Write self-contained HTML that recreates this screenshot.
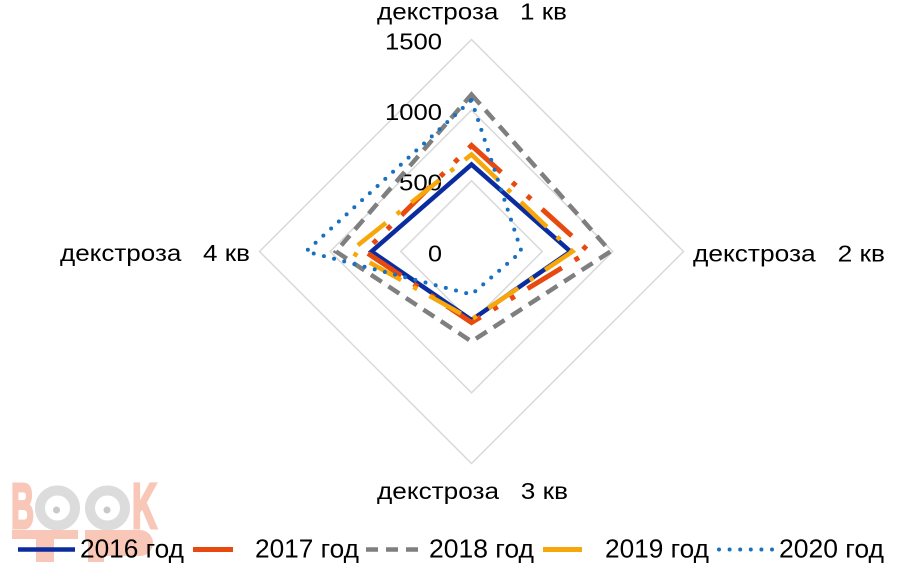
<!DOCTYPE html>
<html>
<head>
<meta charset="utf-8">
<style>
  html,body{margin:0;padding:0;background:#fff;}
  svg{display:block;}
  text{font-family:"Liberation Sans","DejaVu Sans",sans-serif;}
  .t text{fill:#000;}
</style>
</head>
<body>
<svg width="914" height="572" viewBox="0 0 914 572" xmlns="http://www.w3.org/2000/svg">
  <rect x="0" y="0" width="914" height="572" fill="#fff"/>

  <!-- watermark -->
  <g>
    <text x="11" y="528" font-size="64" font-weight="bold" style="fill:#F8C7B7;stroke:#F8C7B7;stroke-width:3" textLength="23" lengthAdjust="spacingAndGlyphs">B</text>
    <circle cx="57.5" cy="508" r="17.5" fill="none" stroke="#DCDCDC" stroke-width="10"/>
    <circle cx="56.5" cy="510" r="3.5" fill="#C9C9C9"/>
    <circle cx="107.5" cy="508" r="17.5" fill="none" stroke="#DCDCDC" stroke-width="10"/>
    <circle cx="107" cy="510" r="3.5" fill="#C9C9C9"/>
    <text x="132" y="528" font-size="64" font-weight="bold" style="fill:#F8C7B7;stroke:#F8C7B7;stroke-width:3" textLength="25" lengthAdjust="spacingAndGlyphs">K</text>
    <rect x="12" y="530" width="66" height="9" fill="#F8C7B7"/>
    <rect x="36" y="539" width="18" height="23" fill="#F8C7B7"/>
    <path d="M85 530 H140 A12 12 0 0 1 140 556 H104 V562 H88 V539 H85 Z" fill="#F8C7B7"/>
  </g>

  <!-- grid -->
  <g fill="none" stroke="#D9D9D9" stroke-width="1.5">
    <polygon points="471.5,39.5 683.5,251.5 471.5,463.5 259.5,251.5"/>
    <polygon points="471.5,110.2 612.8,251.5 471.5,392.8 330.2,251.5"/>
    <polygon points="471.5,180.8 542.2,251.5 471.5,322.2 400.8,251.5"/>
  </g>

  <g class="t">
  <!-- tick labels -->
  <g font-size="23" text-anchor="end">
    <text x="442" y="49.5" textLength="57" lengthAdjust="spacingAndGlyphs">1500</text>
    <text x="442" y="120" textLength="57" lengthAdjust="spacingAndGlyphs">1000</text>
    <text x="442" y="190.7" textLength="43" lengthAdjust="spacingAndGlyphs">500</text>
    <text x="442" y="261.3" textLength="14" lengthAdjust="spacingAndGlyphs">0</text>
  </g>

  <!-- category labels -->
  <g font-size="23">
    <text x="377" y="19.5" textLength="190" lengthAdjust="spacingAndGlyphs" xml:space="preserve">декстроза   1 кв</text>
    <text x="693" y="261.5" textLength="192" lengthAdjust="spacingAndGlyphs" xml:space="preserve">декстроза   2 кв</text>
    <text x="377" y="499" textLength="191" lengthAdjust="spacingAndGlyphs" xml:space="preserve">декстроза   3 кв</text>
    <text x="60" y="261" textLength="190" lengthAdjust="spacingAndGlyphs" xml:space="preserve">декстроза   4 кв</text>
  </g>
  </g>

  <!-- series -->
  <g fill="none" stroke-linejoin="miter">
    <!-- 2016 -->
    <polygon points="471.5,164.5 570.5,251.5 471.5,320 371.5,251.5" stroke="#0B2C9E" stroke-width="4.5"/>
    <!-- 2017 -->
    <polygon points="471.5,145.5 589,251.5 471.5,322.5 365,251.5" stroke="#E8490F" stroke-width="5" stroke-dasharray="40 15 5 15 5 15"/>
    <!-- 2018 -->
    <polygon points="471.5,94.5 610.5,251.5 471.5,341.5 336,251.5" stroke="#7F7F7F" stroke-width="4.5" stroke-dasharray="13 8"/>
    <!-- 2019 -->
    <polygon points="471.5,154.5 572.5,251.5 471.5,319.5 350,251.5" stroke="#F7A70A" stroke-width="4.5" stroke-dasharray="36 14 4.5 14"/>
    <!-- 2020 -->
    <polygon points="471.5,100 521.5,251.5 471.5,294.5 306,251.5" stroke="#1A70C0" stroke-width="4" stroke-linecap="round" stroke-dasharray="0 10.5"/>
  </g>

  <!-- legend -->
  <g fill="none">
    <line x1="18" y1="549.5" x2="75" y2="549.5" stroke="#0B2C9E" stroke-width="4.5"/>
    <line x1="193" y1="549.5" x2="233" y2="549.5" stroke="#E8490F" stroke-width="5"/>
    <line x1="366" y1="549.5" x2="420" y2="549.5" stroke="#7F7F7F" stroke-width="4.5" stroke-dasharray="12 8"/>
    <line x1="543" y1="549.5" x2="582" y2="549.5" stroke="#F7A70A" stroke-width="5"/>
    <line x1="719" y1="549.5" x2="772" y2="549.5" stroke="#1A70C0" stroke-width="4" stroke-linecap="round" stroke-dasharray="0 10.6"/>
  </g>
  <g font-size="26" class="t">
    <text x="80" y="557.7" textLength="104" lengthAdjust="spacingAndGlyphs">2016 год</text>
    <text x="255" y="557.7" textLength="104" lengthAdjust="spacingAndGlyphs">2017 год</text>
    <text x="429" y="557.7" textLength="105" lengthAdjust="spacingAndGlyphs">2018 год</text>
    <text x="605" y="557.7" textLength="104" lengthAdjust="spacingAndGlyphs">2019 год</text>
    <text x="779" y="557.7" textLength="105" lengthAdjust="spacingAndGlyphs">2020 год</text>
  </g>
</svg>
</body>
</html>
